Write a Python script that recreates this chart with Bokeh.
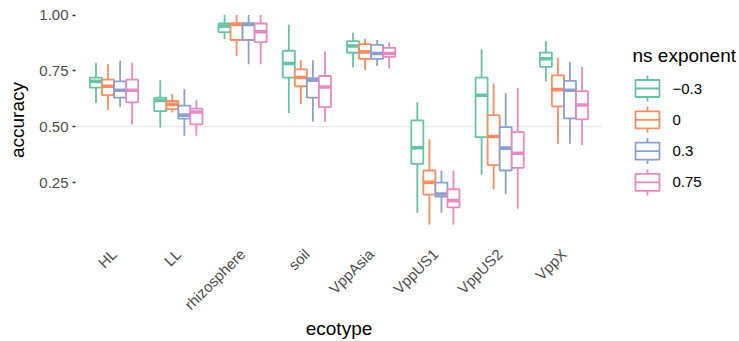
from math import pi

from bokeh.core.properties import value
from bokeh.embed import file_html
from bokeh.layouts import row
from bokeh.models import ColumnDataSource, FixedTicker, NumeralTickFormatter, Range1d
from bokeh.plotting import figure
from bokeh.resources import INLINE

# Ecotypes on the x axis and the ns exponent groups
ecotypes = ["HL", "LL", "rhizosphere", "soil", "VppAsia", "VppUS1", "VppUS2", "VppX"]
exponent_labels = ["\u22120.3", "0", "0.3", "0.75"]
colors = ["#66C2A5", "#FC8D62", "#8DA0CB", "#E78AC3"]

# Box statistics per ecotype: (lower whisker, q1, median, q3, upper whisker)
stats_m03 = [
    (0.606, 0.675, 0.703, 0.720, 0.786),
    (0.495, 0.570, 0.618, 0.630, 0.708),
    (0.891, 0.923, 0.950, 0.962, 1.000),
    (0.561, 0.720, 0.783, 0.840, 0.956),
    (0.765, 0.831, 0.861, 0.883, 0.920),
    (0.115, 0.334, 0.406, 0.528, 0.609),
    (0.286, 0.453, 0.641, 0.720, 0.846),
    (0.702, 0.768, 0.804, 0.832, 0.882),
]
stats_0 = [
    (0.573, 0.641, 0.681, 0.711, 0.780),
    (0.564, 0.579, 0.600, 0.615, 0.648),
    (0.816, 0.888, 0.958, 0.962, 1.000),
    (0.600, 0.681, 0.720, 0.757, 0.798),
    (0.753, 0.804, 0.835, 0.870, 0.895),
    (0.061, 0.196, 0.251, 0.304, 0.444),
    (0.220, 0.328, 0.456, 0.552, 0.693),
    (0.424, 0.591, 0.666, 0.730, 0.810),
]
stats_03 = [
    (0.588, 0.630, 0.663, 0.703, 0.795),
    (0.460, 0.536, 0.552, 0.594, 0.669),
    (0.780, 0.888, 0.958, 0.962, 1.000),
    (0.522, 0.630, 0.708, 0.717, 0.798),
    (0.772, 0.804, 0.828, 0.866, 0.888),
    (0.115, 0.187, 0.199, 0.250, 0.304),
    (0.199, 0.304, 0.404, 0.498, 0.651),
    (0.424, 0.537, 0.663, 0.705, 0.790),
]
stats_075 = [
    (0.510, 0.609, 0.663, 0.711, 0.786),
    (0.460, 0.510, 0.566, 0.581, 0.621),
    (0.780, 0.879, 0.925, 0.962, 1.000),
    (0.522, 0.588, 0.678, 0.727, 0.837),
    (0.760, 0.813, 0.828, 0.853, 0.877),
    (0.061, 0.139, 0.169, 0.220, 0.304),
    (0.133, 0.316, 0.381, 0.476, 0.672),
    (0.417, 0.533, 0.597, 0.659, 0.768),
]
groups = [stats_m03, stats_0, stats_03, stats_075]

y_ticks = [0.25, 0.50, 0.75, 1.00]
reference_line = 0.5

FONT = "Liberation Sans"
DODGE = 0.75
BOX_W = DODGE / len(groups)
LINE_W = 1.8
MEDIAN_W = 3.6

TOP, BOTTOM = 4, 106  # border sizes in pixels around the plotting frame
HEIGHT = 341

p = figure(
    width=612, height=HEIGHT,
    x_range=Range1d(0.4, len(ecotypes) + 0.6),
    y_range=Range1d(0.013, 1.047),
    output_backend="svg", toolbar_location=None,
    min_border_left=75, min_border_right=10, min_border_top=TOP, min_border_bottom=BOTTOM,
)
p.outline_line_color = None
p.background_fill_color = "white"

for gi, (stats, color) in enumerate(zip(groups, colors)):
    offset = -DODGE / 2 + BOX_W * (gi + 0.5)
    xs = [i + 1 + offset for i in range(len(ecotypes))]
    src = ColumnDataSource(dict(
        x=xs,
        lo=[s[0] for s in stats], q1=[s[1] for s in stats], med=[s[2] for s in stats],
        q3=[s[3] for s in stats], hi=[s[4] for s in stats],
        left=[x - BOX_W / 2 for x in xs], right=[x + BOX_W / 2 for x in xs],
    ))
    p.segment(x0="x", x1="x", y0="q3", y1="hi", source=src, line_color=color, line_width=LINE_W)
    p.segment(x0="x", x1="x", y0="lo", y1="q1", source=src, line_color=color, line_width=LINE_W)
    p.vbar(x="x", width=BOX_W, bottom="q1", top="q3", source=src,
           fill_color="white", line_color=color, line_width=LINE_W)
    p.segment(x0="left", x1="right", y0="med", y1="med", source=src,
              line_color=color, line_width=MEDIAN_W)

# axes
p.xaxis.ticker = FixedTicker(ticks=list(range(1, len(ecotypes) + 1)))
p.xaxis.major_label_overrides = {i + 1: name for i, name in enumerate(ecotypes)}
p.xaxis.major_label_orientation = pi / 4
p.xaxis.axis_label = "ecotype"
p.yaxis.ticker = FixedTicker(ticks=y_ticks)
p.yaxis.formatter = NumeralTickFormatter(format="0.00")
p.yaxis.axis_label = "accuracy"

for ax in (p.xaxis[0], p.yaxis[0]):
    ax.axis_line_color = None
    ax.major_label_text_font = FONT
    ax.major_label_text_font_size = "15px"
    ax.major_label_text_color = "#4D4D4D"
    ax.axis_label_text_font = FONT
    ax.axis_label_text_font_size = "19px"
    ax.axis_label_text_font_style = "normal"
    ax.axis_label_text_color = "black"
    ax.minor_tick_line_color = None
    ax.minor_tick_out = 0
    ax.minor_tick_in = 0

p.xaxis.major_tick_line_color = None
p.xaxis.major_tick_out = 0
p.xaxis.major_tick_in = 0
p.xaxis.major_label_standoff = 16
p.xaxis.axis_label_standoff = -4
p.yaxis.major_tick_line_color = "#333333"
p.yaxis.major_tick_line_width = 1.5
p.yaxis.major_tick_out = 3
p.yaxis.major_tick_in = 0
p.yaxis.major_label_standoff = 4
p.yaxis.axis_label_standoff = 8

p.xgrid.grid_line_color = None
p.ygrid.ticker = FixedTicker(ticks=[reference_line])
p.ygrid.grid_line_color = "#EBEBEB"
p.ygrid.grid_line_width = 1.6

# legend panel; its frame lines up with the plot frame, so map y to page pixels
leg = figure(
    width=127, height=HEIGHT,
    x_range=Range1d(0, 127), y_range=Range1d(HEIGHT - BOTTOM, TOP),
    x_axis_type=None, y_axis_type=None,
    output_backend="svg", toolbar_location=None,
    min_border_left=0, min_border_right=0, min_border_top=TOP, min_border_bottom=BOTTOM,
)
leg.outline_line_color = None
leg.grid.visible = False

key_cx, key_w, key_h, whisk = 35, 24, 17, 13
first_y, step_y = 88, 31.3
key_ys = [first_y + i * step_y for i in range(len(exponent_labels))]
key_src = ColumnDataSource(dict(
    y=key_ys, color=colors, label=exponent_labels,
    top=[y - whisk for y in key_ys], bottom=[y + whisk for y in key_ys],
))
leg.segment(x0=key_cx, x1=key_cx, y0="top", y1="bottom", source=key_src,
            line_color="color", line_width=LINE_W)
leg.rect(x=key_cx, y="y", width=key_w, height=key_h, source=key_src,
         fill_color="white", line_color="color", line_width=LINE_W)
leg.segment(x0=key_cx - key_w / 2, x1=key_cx + key_w / 2, y0="y", y1="y", source=key_src,
            line_color="color", line_width=LINE_W)
leg.text(x=60, y="y", text="label", source=key_src, text_font=value(FONT),
         text_font_size="15px", text_baseline="middle", text_color="black")
leg.text(x=[20], y=[55], text=["ns exponent"], text_font=value(FONT),
         text_font_size="19px", text_baseline="middle", text_color="black")

layout = row(p, leg, spacing=0)
open("out.html", "w").write(file_html(layout, INLINE))
